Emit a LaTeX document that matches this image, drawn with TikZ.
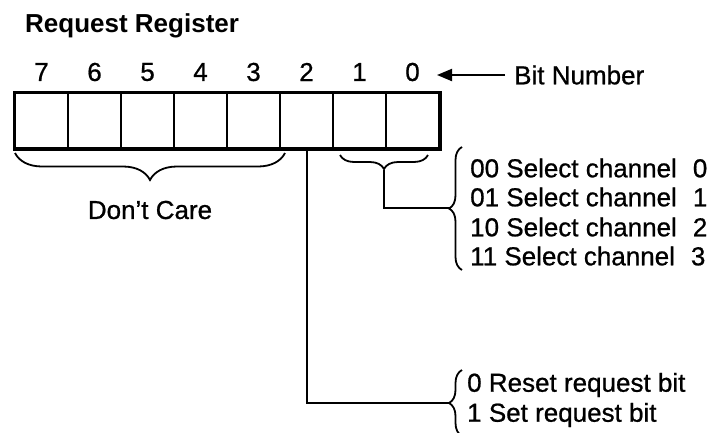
\documentclass[tikz,border=0pt]{standalone}
\usepackage{fontspec}
\setmainfont{Liberation Sans}
\usetikzlibrary{decorations.pathreplacing,arrows.meta}
\begin{document}
\begin{tikzpicture}[x=1pt,y=-1pt,
  txt/.style={font=\fontsize{26}{29}\selectfont\addfontfeature{FakeBold=0.8}, inner sep=0pt},
  titletxt/.style={font=\fontsize{26}{29}\selectfont\bfseries, inner sep=0pt},
  cell/.style={draw, line width=2pt, minimum width=53pt, minimum height=55pt, inner sep=0pt},
  conn/.style={line width=2pt},
  brc/.style={decorate, decoration={brace, amplitude=#1}, line width=1.8pt}]
\useasboundingbox (0,0) rectangle (709,432);

\node[titletxt, anchor=west] (title) at (25,26) {Request Register};

\foreach \b [count=\i from 0] in {7,6,5,4,3,2,1,0} {
  \node[cell] (c\b) at (41.5+53*\i,120.5) {};
  \node[txt] (n\b) at (41.5+53*\i,72) {\b};
}
\draw[line width=3pt] (c7.north west) rectangle (c0.south east);

\node[txt, anchor=west] (bitnum) at (514,75) {Bit Number};
\coordinate (arrtip) at (437,75);
\draw[conn, shorten <=9pt, -{Triangle[length=15pt,width=12pt]}] (bitnum.west) -- (arrtip);

\draw[brc=27pt] (285,153) -- (15,153);
\node[txt] (dc) at (150,210) {Don't Care};

\draw[brc=14pt] (428,155) -- (340,155);
\coordinate (tip10) at (384,170);
\coordinate (tipC) at (449,208);
\draw[conn] (tip10) |- (tipC);
\draw[brc=13pt] (462,270) -- (462,147);

\node[txt, anchor=west] (ch0) at (470,168) {00 Select channel\hspace{16pt}0};
\node[txt, anchor=west] (ch1) at (470,197) {01 Select channel\hspace{16pt}1};
\node[txt, anchor=west] (ch2) at (470,227) {10 Select channel\hspace{16pt}2};
\node[txt, anchor=west] (ch3) at (470,256) {11 Select channel\hspace{16pt}3};

\coordinate (tipS) at (449,403);
\draw[conn] (c2.south) |- (tipS);
\draw[brc=13pt] (462,436) -- (462,370);
\node[txt, anchor=west] (rs0) at (467,385) {0 Reset request bit};
\node[txt, anchor=west] (rs1) at (467,415) {1 Set request bit};
\end{tikzpicture}
\end{document}
